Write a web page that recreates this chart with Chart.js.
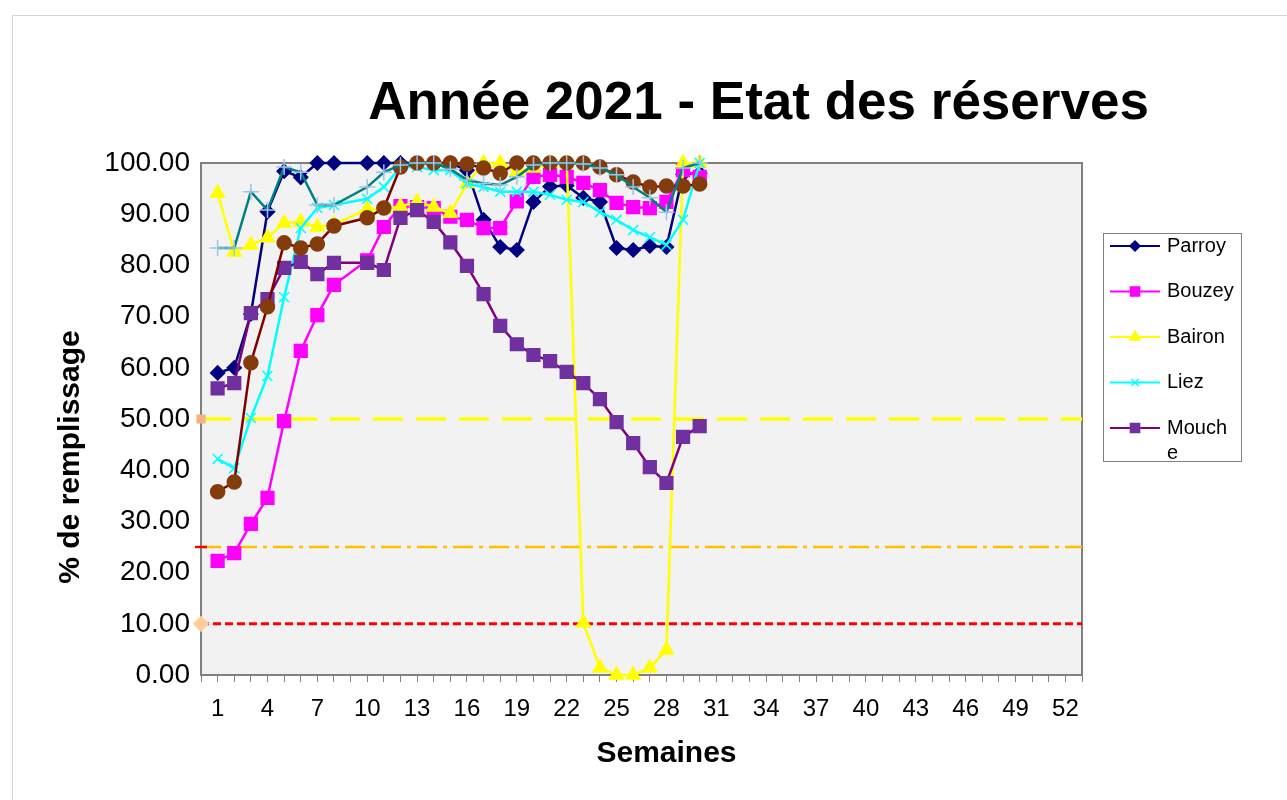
<!DOCTYPE html>
<html lang="fr">
<head>
<meta charset="utf-8">
<title>Année 2021 - Etat des réserves</title>
<script src="https://cdn.jsdelivr.net/npm/chart.js@4.4.1/dist/chart.umd.min.js"></script>
<style>
  html, body { margin: 0; padding: 0; background: #fff; overflow: hidden; }
  #cadre { position: absolute; left: 12px; top: 15px; width: 1300px; height: 800px; border: 1px solid #d4d4d4; }
  #graph { position: absolute; left: 0; top: 0; }
</style>
</head>
<body>
<div id="cadre"></div>
<canvas id="graph" width="1287" height="800"></canvas>
<script>
// semaines 0..53 sur l'axe, libellés affichés 1, 4, 7 ... 52
const semaines = Array.from({ length: 54 }, (_, i) => String(i));

// % de remplissage, semaines 1 à 30 (semaine 9 manquante)
const parroy = [59, 60, 70.5, 90.5, 98.4, 97.2, 100, 100, null, 100, 100, 100, 100, 100, 100, 98.6, 88.9, 83.6, 83, 92.4, 95.4, 95.6, 93.2, 92.4, 83.4, 83, 83.8, 83.6, 97.8, 98];
const bouzey = [22.3, 23.8, 29.5, 34.6, 49.6, 63.3, 70.3, 76.2, null, 81, 87.5, 91.6, 91.4, 91.2, 89.5, 88.9, 87.3, 87.3, 92.5, 97.3, 97.7, 97.3, 96.1, 94.7, 92.2, 91.4, 91.2, 92.4, 98.6, 97.3];
const bairon = [94.1, 82.6, 84, 85.4, 88.3, 88.5, 87.5, 88, null, 91, 91, 91.5, 92.4, 91.4, 90.2, 96, 100, 100, 98.3, 99, 100, 100, 10.2, 1.4, 0, 0, 1.4, 4.9, 100, 100];
const liez = [42.2, 40.4, 50.2, 58.4, 73.8, 87.3, 91.2, 91.8, null, 93, 95.3, 99.2, 99.2, 98.6, 98.6, 96, 95.3, 94.4, 94.4, 94.4, 93.8, 92.8, 92.4, 90.4, 88.9, 86.9, 85.5, 84, 88.9, 100];
const mouche = [56, 57, 70.7, 73.4, 79.5, 80.7, 78.3, 80.5, null, 80.5, 79.1, 89.3, 90.8, 88.5, 84.5, 79.9, 74.4, 68.2, 64.6, 62.5, 61.3, 59.2, 57, 53.9, 49.4, 45.3, 40.6, 37.5, 46.5, 48.6];
const serie6 = [83.4, 83.4, 94.4, 90.8, 99.2, 98.2, 91.8, 91.8, null, 95.3, 98.2, 99.6, 100, 100, 98.8, 96.7, 96, 95.7, 97.3, 99.6, 100, 100, 99.8, 99, 97.7, 95.3, 93.2, 90.4, 99, 100];
const serie7 = [35.8, 37.7, 61, 71.9, 84.4, 83.4, 84.2, 87.7, null, 89.3, 91.2, 99.2, 100, 100, 100, 99.8, 99, 98, 100, 100, 100, 100, 100, 99.2, 97.7, 96.3, 95.3, 95.5, 95.5, 95.9];

// seuils horizontaux
const seuilHaut = 50;
const seuilMoyen = 25;
const seuilBas = 10;

const yTicks = [0, 10, 20, 30, 40, 50, 60, 70, 80, 90, 100];

const police = '"Liberation Sans", Arial, sans-serif';
Chart.defaults.font.family = police;
Chart.defaults.color = '#000';

function serie(label, valeurs, couleur, style, rayon, fond, bord, ordre, enLegende) {
  return {
    label: label,
    data: [null].concat(valeurs),
    borderColor: couleur,
    borderWidth: 2.5,
    pointStyle: style,
    pointRadius: rayon,
    pointBackgroundColor: fond,
    pointBorderColor: bord,
    pointBorderWidth: 1.5,
    spanGaps: true,
    tension: 0,
    order: ordre,
    enLegende: enLegende,
    clip: false
  };
}

function seuil(label, valeur, couleur, largeur, tirets, marque, fondMarque, rayon) {
  return {
    label: label,
    data: [{ x: '0', y: valeur }, { x: '53', y: valeur }],
    borderColor: couleur,
    borderWidth: largeur,
    borderDash: tirets,
    pointStyle: marque,
    pointRadius: [rayon, 0],
    pointBackgroundColor: fondMarque,
    pointBorderColor: fondMarque,
    order: 20,
    enLegende: false,
    clip: false
  };
}

const datasets = [
  seuil('Seuil 50', seuilHaut, '#ffff00', 3.5, [30, 13], 'rect', '#f4b183', 4),
  seuil('Seuil 25', seuilMoyen, '#ffc000', 2.5, [20, 6, 4, 6], 'line', '#ff0000', 6),
  seuil('Seuil 10', seuilBas, '#ff0000', 3, [8, 4], 'rectRot', '#ffcc99', 6),
  serie('Parroy', parroy, '#000080', 'rectRot', 7, '#000080', '#000080', 9, true),
  serie('Bouzey', bouzey, '#ff00ff', 'rect', 9, '#ff00ff', '#ff00ff', 8, true),
  serie('Bairon', bairon, '#ffff00', 'triangle', 8, '#ffff00', '#ffff00', 7, true),
  serie('Liez', liez, '#00ffff', 'crossRot', 7, '#00ffff', '#00ffff', 6, true),
  serie('Mouche', mouche, '#800080', 'rect', 9, '#7030a0', '#7030a0', 5, true),
  serie('Série 7', serie7, '#800000', 'circle', 7, '#843c0c', '#843c0c', 4, false),
  serie('Série 6', serie6, '#008080', 'cross', 8, '#9dc3e6', '#9dc3e6', 3, false)
];

// fond gris et bordure de la zone de tracé
const zoneTrace = {
  id: 'zoneTrace',
  beforeDatasetsDraw(chart) {
    const { ctx, chartArea: a } = chart;
    ctx.save();
    ctx.fillStyle = '#f2f2f2';
    ctx.fillRect(a.left, a.top, a.width, a.height);
    ctx.strokeStyle = '#808080';
    ctx.lineWidth = 2;
    ctx.strokeRect(a.left, a.top, a.width, a.height);
    ctx.restore();
  }
};

// titres (position décalée comme dans l'original)
const titres = {
  id: 'titres',
  afterDraw(chart) {
    const { ctx, chartArea: a } = chart;
    const cx = a.left + a.width / 2;
    ctx.save();
    ctx.fillStyle = '#000';
    ctx.textAlign = 'center';
    ctx.textBaseline = 'middle';
    ctx.font = 'bold 53px ' + police;
    ctx.fillText('Année 2021 - Etat des réserves', cx + 117, a.top - 59);
    ctx.font = 'bold 30px ' + police;
    ctx.fillText('Semaines', cx + 25, a.bottom + 79);
    ctx.translate(a.left - 130, a.top + a.height / 2 + 38);
    ctx.rotate(-Math.PI / 2);
    ctx.fillText('% de remplissage', 0, 0);
    ctx.restore();
  }
};

// légende encadrée, ligne + marqueur
const legende = {
  id: 'legende',
  afterDraw(chart) {
    const { ctx, chartArea: a } = chart;
    const x0 = a.right + 21, y0 = a.top + 70, w = 138, h = 228;
    ctx.save();
    ctx.fillStyle = '#fff';
    ctx.fillRect(x0, y0, w, h);
    ctx.strokeStyle = '#808080';
    ctx.lineWidth = 1;
    ctx.strokeRect(x0 + 0.5, y0 + 0.5, w, h);
    ctx.font = '20px ' + police;
    ctx.textBaseline = 'middle';
    ctx.textAlign = 'left';
    const items = chart.data.datasets.filter(d => d.enLegende);
    items.forEach((d, i) => {
      const y = y0 + 13 + i * 45.5;
      ctx.strokeStyle = d.borderColor;
      ctx.lineWidth = 2;
      ctx.beginPath();
      ctx.moveTo(x0 + 7, y);
      ctx.lineTo(x0 + 57, y);
      ctx.stroke();
      ctx.fillStyle = d.pointBackgroundColor;
      ctx.strokeStyle = d.pointBorderColor;
      ctx.lineWidth = 1.5;
      Chart.helpers.drawPoint(ctx, { pointStyle: d.pointStyle, radius: d.pointRadius * 0.72, borderWidth: 1.5, rotation: 0 }, x0 + 32, y);
      // coupure du texte si trop long (Mouch / e)
      const maxW = 69;
      const lignes = [];
      let cur = '';
      for (const ch of d.label) {
        if (cur && ctx.measureText(cur + ch).width > maxW) { lignes.push(cur); cur = ch; }
        else cur += ch;
      }
      lignes.push(cur);
      ctx.fillStyle = '#000';
      lignes.forEach((t, k) => ctx.fillText(t, x0 + 64, y + k * 25));
    });
    ctx.restore();
  }
};

new Chart(document.getElementById('graph'), {
  type: 'line',
  data: { labels: semaines, datasets: datasets },
  options: {
    responsive: false,
    animation: false,
    layout: { padding: { top: 163, right: 205, left: 0, bottom: 0 } },
    plugins: {
      legend: { display: false },
      title: { display: false },
      tooltip: { enabled: false }
    },
    scales: {
      x: {
        type: 'category',
        offset: false,
        border: { display: false },
        grid: { display: true, drawOnChartArea: false, drawTicks: true, tickLength: 7, color: '#808080', lineWidth: 1 },
        ticks: {
          autoSkip: false,
          maxRotation: 0,
          padding: 13,
          font: { size: 24 },
          callback: function (v) {
            const s = Number(this.getLabelForValue(v));
            return (s >= 1 && s <= 52 && (s - 1) % 3 === 0) ? String(s) : '';
          }
        },
        afterFit(scale) { scale.height = 125; }
      },
      y: {
        min: 0,
        max: 100,
        border: { display: false },
        grid: { display: false, drawTicks: false },
        afterBuildTicks(scale) { scale.ticks = yTicks.map(v => ({ value: v })); },
        ticks: {
          padding: 11,
          font: { size: 28 },
          callback: v => Number(v).toFixed(2)
        },
        afterFit(scale) { scale.width = 201; }
      }
    }
  },
  plugins: [zoneTrace, titres, legende]
});
</script>
</body>
</html>
